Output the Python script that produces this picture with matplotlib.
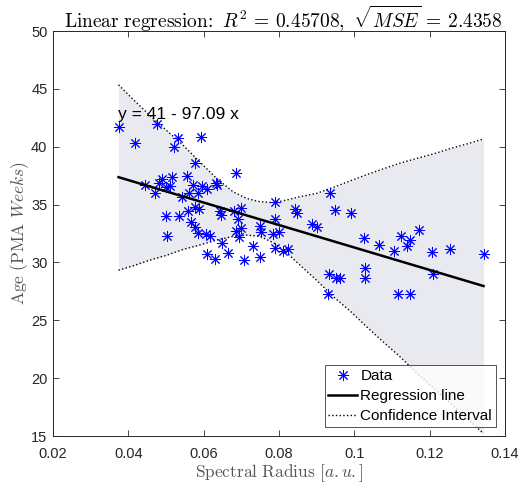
import numpy as np
import matplotlib
matplotlib.use('Agg')
import matplotlib.pyplot as plt

plt.rcParams['font.family'] = ['Liberation Sans', 'DejaVu Sans']
plt.rcParams['mathtext.fontset'] = 'cm'

# spectral radius vs age
radius = [0.0374, 0.0419, 0.0476, 0.0533, 0.0520, 0.0594, 0.0576, 0.0687,
          0.0445, 0.0472, 0.0481, 0.0490, 0.0500, 0.0511, 0.0516, 0.0556,
          0.0573, 0.0596, 0.0609, 0.0634, 0.0636, 0.0543, 0.0561, 0.0585,
          0.0576, 0.0587, 0.0558, 0.0499, 0.0534, 0.0502, 0.0567, 0.0578,
          0.0585, 0.0605, 0.0616, 0.0609, 0.0631, 0.0650, 0.0665, 0.0707,
          0.0643, 0.0647, 0.0680, 0.0700, 0.0691, 0.0685, 0.0698, 0.0694,
          0.0732, 0.0749, 0.0749, 0.0751, 0.0789, 0.0789, 0.0785, 0.0800,
          0.0789, 0.0810, 0.0825, 0.0843, 0.0849, 0.0887, 0.0900, 0.0936,
          0.0949, 0.0991, 0.0932, 0.0952, 0.0963, 0.0930, 0.1027, 0.1029,
          0.1028, 0.1065, 0.1105, 0.1125, 0.1148, 0.1139, 0.1173, 0.1116,
          0.1148, 0.1205, 0.1209, 0.1253, 0.1343]
age = [41.68, 40.35, 42.00, 40.73, 39.95, 40.87, 38.56, 37.70,
       36.69, 35.97, 36.89, 37.18, 36.54, 36.60, 37.41, 37.47,
       36.69, 36.60, 36.37, 36.83, 36.69, 35.68, 35.97, 35.97,
       34.75, 34.58, 34.47, 34.00, 34.00, 32.27, 33.51, 33.08,
       32.56, 32.45, 32.27, 30.71, 30.34, 31.70, 30.83, 30.25,
       34.47, 34.09, 34.47, 34.73, 33.72, 32.73, 32.94, 32.21,
       31.41, 30.43, 33.14, 32.65, 35.25, 33.72, 32.50, 32.65,
       31.26, 31.00, 31.12, 34.58, 34.29, 33.31, 33.02, 36.02,
       34.52, 34.24, 28.98, 28.67, 28.67, 27.31, 32.13, 29.56,
       28.67, 31.55, 30.97, 32.27, 31.98, 31.41, 32.79, 27.25,
       27.25, 30.86, 28.98, 31.12, 30.69]

# regression coefficients
b0 = 41
b1 = -97.09

# confidence band
band_x = [0.0374, 0.0412, 0.0456, 0.0500, 0.0545, 0.0589, 0.0634, 0.0678,
          0.0714, 0.0749, 0.0785, 0.0820, 0.0856, 0.0900, 0.0945, 0.0989,
          0.1034, 0.1078, 0.1123, 0.1167, 0.1212, 0.1256, 0.1300, 0.1343]
band_hi = [45.35, 44.11, 42.75, 41.45, 40.15, 38.71, 37.27, 36.11,
           35.53, 35.25, 35.16, 35.39, 35.68, 35.97, 36.50, 37.05,
           37.60, 38.10, 38.60, 39.00, 39.40, 39.85, 40.25, 40.67]
band_lo = [29.33, 29.70, 30.19, 30.60, 31.12, 31.50, 31.93, 32.25,
           32.36, 32.27, 31.70, 30.85, 29.76, 28.46, 27.02, 25.80,
           24.40, 23.10, 21.80, 20.40, 19.10, 17.80, 16.50, 15.20]

xticks = [0.02, 0.04, 0.06, 0.08, 0.1, 0.12, 0.14]
xticklabels = ['0.02', '0.04', '0.06', '0.08', '0.1', '0.12', '0.14']
yticks = [15, 20, 25, 30, 35, 40, 45, 50]

fig = plt.figure(figsize=(5.22, 4.90), dpi=100)
ax = fig.add_axes([0.1015, 0.1102, 0.8659, 0.8265])

ax.fill_between(band_x, band_lo, band_hi, color='#e9eaf0', lw=0, zorder=1)
ax.plot(radius, age, ls='none', marker=(8, 2, 0), ms=8, mew=0.7,
        color='#0000ff', label='Data', zorder=3)
xl = np.array([min(radius), max(radius)])
ax.plot(xl, b0 + b1 * xl, color='k', lw=1.8, label='Regression line', zorder=4)
ax.plot(band_x, band_hi, color='k', ls=':', lw=1, label='Confidence Interval', zorder=2)
ax.plot(band_x, band_lo, color='k', ls=':', lw=1, zorder=2)

ax.text(0.0373, 42.75, 'y = 41 - 97.09 x', fontsize=12.5, va='center', ha='left', zorder=5)

ax.set_xlim(0.02, 0.14)
ax.set_ylim(15, 50)
ax.set_xticks(xticks)
ax.set_xticklabels(xticklabels)
ax.set_yticks(yticks)
ax.tick_params(direction='in', length=4, width=0.6, labelsize=10.5, colors='#262626',
               top=True, right=True, pad=4)
ax.tick_params(axis='x', pad=8)
for s in ax.spines.values():
    s.set_color('#262626')
    s.set_linewidth(0.7)

ax.set_title(r'$\mathrm{Linear\ regression\!:}\ R^2\,=\,0.45708,\ \sqrt{MSE}\,=\,2.4358$',
             fontsize=14, pad=2, x=0.51)
ax.set_xlabel(r'$\mathrm{Spectral\ Radius\ }[a.u.]$', fontsize=12.5, color='#555555', labelpad=1)
ax.set_ylabel(r'$\mathrm{Age\ (PMA\ }Weeks\mathrm{)}$', fontsize=12.5, color='#555555', labelpad=0)

leg = ax.legend(loc='lower right', bbox_to_anchor=(0.98, 0.022), fontsize=11,
                frameon=True, fancybox=False, borderpad=0.25, labelspacing=0.4,
                handlelength=1.9, handletextpad=0.2, borderaxespad=0)
leg.get_frame().set_edgecolor('#262626')
leg.get_frame().set_linewidth(0.7)

fig.savefig('out.png', dpi=100)
